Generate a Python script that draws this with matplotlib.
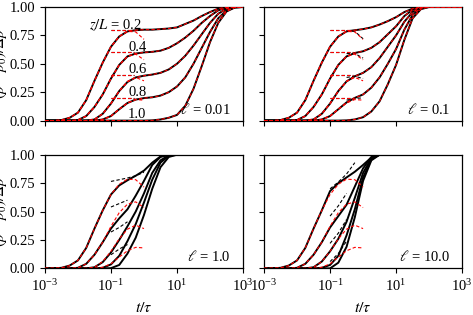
import numpy as np
import matplotlib
matplotlib.use('Agg')
import matplotlib.pyplot as plt
from matplotlib.ticker import NullLocator

plt.rcParams['font.family'] = ['Liberation Serif', 'DejaVu Serif']
plt.rcParams['mathtext.fontset'] = 'stix'
plt.rcParams['font.size'] = 9.5

# log10(t/tau) sampling of the curves
LOG_T = [-3.0, -2.75, -2.5, -2.25, -2.0, -1.75, -1.5, -1.25, -1.0, -0.75, -0.5, -0.25,
         0.0, 0.25, 0.5, 0.75, 1.0, 1.25, 1.5, 1.75, 2.0, 2.25, 2.5, 2.75, 3.0]
LOG_T_EARLY = LOG_T[:13]
Z_LABELS = ['0.2', '0.4', '0.6', '0.8', '1.0']
PLATEAU = [0.8, 0.6, 0.4, 0.2, 0.0]
ELL = ['0.01', '0.1', '1.0', '10.0']

# early-time approximation (red dashed), z/L = 0.2 ... 0.8
EARLY_02 = [0, 0, 0.005, 0.025, 0.07, 0.18, 0.35, 0.51, 0.65, 0.74, 0.785, 0.78, 0.715]
EARLY_04 = [0, 0, 0, 0, 0.005, 0.04, 0.12, 0.23, 0.37, 0.49, 0.565, 0.585, 0.535]
EARLY_06 = [0, 0, 0, 0, 0, 0, 0.01, 0.06, 0.15, 0.26, 0.345, 0.38, 0.35]
EARLY_08 = [0, 0, 0, 0, 0, 0, 0, 0.01, 0.04, 0.10, 0.155, 0.185, 0.18]

# ell = 0.01
A_02 = [0, 0, 0.005, 0.025, 0.07, 0.18, 0.35, 0.51, 0.65, 0.74, 0.785, 0.795, 0.80,
        0.80, 0.805, 0.81, 0.82, 0.85, 0.88, 0.92, 0.955, 0.985, 0.998, 1, 1]
A_04 = [0, 0, 0, 0, 0.005, 0.04, 0.12, 0.23, 0.37, 0.49, 0.565, 0.59, 0.60,
        0.605, 0.615, 0.64, 0.68, 0.73, 0.79, 0.86, 0.92, 0.97, 0.993, 1, 1]
A_06 = [0, 0, 0, 0, 0, 0, 0.01, 0.06, 0.15, 0.26, 0.34, 0.38, 0.395,
        0.405, 0.42, 0.45, 0.50, 0.57, 0.66, 0.76, 0.86, 0.94, 0.985, 1, 1]
A_08 = [0, 0, 0, 0, 0, 0, 0, 0.01, 0.04, 0.10, 0.155, 0.185, 0.198,
        0.205, 0.22, 0.25, 0.30, 0.38, 0.50, 0.64, 0.78, 0.90, 0.97, 0.995, 1]
A_10 = [0, 0, 0, 0, 0, 0, 0, 0, 0, 0, 0, 0, 0,
        0.002, 0.01, 0.025, 0.05, 0.13, 0.28, 0.48, 0.69, 0.86, 0.96, 0.995, 1]

# ell = 0.1
B_02 = [0, 0, 0.005, 0.025, 0.07, 0.18, 0.35, 0.51, 0.65, 0.74, 0.785, 0.795, 0.805,
        0.82, 0.845, 0.875, 0.91, 0.955, 0.985, 0.999, 1, 1, 1, 1, 1]
B_04 = [0, 0, 0, 0, 0.005, 0.04, 0.12, 0.23, 0.37, 0.49, 0.565, 0.595, 0.61,
        0.64, 0.69, 0.76, 0.83, 0.92, 0.975, 0.998, 1, 1, 1, 1, 1]
B_06 = [0, 0, 0, 0, 0, 0, 0.01, 0.06, 0.15, 0.26, 0.345, 0.39, 0.42,
        0.47, 0.55, 0.65, 0.75, 0.87, 0.955, 0.995, 1, 1, 1, 1, 1]
B_08 = [0, 0, 0, 0, 0, 0, 0, 0.01, 0.04, 0.10, 0.16, 0.20, 0.23,
        0.29, 0.38, 0.50, 0.63, 0.80, 0.93, 0.99, 1, 1, 1, 1, 1]
B_10 = [0, 0, 0, 0, 0, 0, 0, 0, 0, 0, 0.002, 0.01, 0.03,
        0.08, 0.17, 0.32, 0.49, 0.71, 0.90, 0.98, 1, 1, 1, 1, 1]
B_TAIL_T = [-0.5, -0.25, 0.0]
B_TAIL = [[0.79, 0.785, 0.72], [0.59, 0.59, 0.55], [0.38, 0.39, 0.37], [0.18, 0.195, 0.20]]

# ell = 1.0
C_02 = [0, 0, 0.005, 0.025, 0.07, 0.18, 0.35, 0.51, 0.65, 0.73, 0.775, 0.815, 0.86,
        0.93, 0.985, 1, 1, 1, 1, 1, 1, 1, 1, 1, 1]
C_04 = [0, 0, 0, 0, 0.005, 0.04, 0.12, 0.23, 0.35, 0.44, 0.52, 0.64, 0.77,
        0.91, 0.98, 1, 1, 1, 1, 1, 1, 1, 1, 1, 1]
C_06 = [0, 0, 0, 0, 0, 0, 0.01, 0.055, 0.14, 0.25, 0.37, 0.50, 0.66,
        0.84, 0.95, 0.995, 1, 1, 1, 1, 1, 1, 1, 1, 1]
C_08 = [0, 0, 0, 0, 0, 0, 0, 0.005, 0.035, 0.11, 0.24, 0.39, 0.58,
        0.78, 0.93, 0.99, 1, 1, 1, 1, 1, 1, 1, 1, 1]
C_10 = [0, 0, 0, 0, 0, 0, 0, 0, 0.002, 0.03, 0.13, 0.27, 0.47,
        0.70, 0.89, 0.98, 1, 1, 1, 1, 1, 1, 1, 1, 1]
C_DASH_T = [-1.0, -0.75, -0.5, -0.25, 0.0]
C_DASH = [[0.765, 0.78, 0.795, 0.815, 0.845], [0.54, 0.57, 0.60, np.nan, np.nan],
          [0.32, 0.36, 0.41, np.nan, np.nan], [0.12, 0.17, 0.21, np.nan, np.nan]]

# ell = 10.0
D_02 = [0, 0, 0.005, 0.025, 0.07, 0.18, 0.35, 0.51, 0.68, 0.75, 0.80, 0.85, 0.91,
        0.975, 1, 1, 1, 1, 1, 1, 1, 1, 1, 1, 1]
D_04 = [0, 0, 0, 0, 0.005, 0.04, 0.12, 0.23, 0.36, 0.46, 0.56, 0.72, 0.88,
        0.98, 1, 1, 1, 1, 1, 1, 1, 1, 1, 1, 1]
D_06 = [0, 0, 0, 0, 0, 0, 0.01, 0.06, 0.15, 0.26, 0.41, 0.62, 0.84,
        0.97, 1, 1, 1, 1, 1, 1, 1, 1, 1, 1, 1]
D_08 = [0, 0, 0, 0, 0, 0, 0, 0.005, 0.03, 0.11, 0.29, 0.52, 0.80,
        0.96, 1, 1, 1, 1, 1, 1, 1, 1, 1, 1, 1]
D_10 = [0, 0, 0, 0, 0, 0, 0, 0, 0, 0.05, 0.19, 0.45, 0.77,
        0.95, 1, 1, 1, 1, 1, 1, 1, 1, 1, 1, 1]
D_DASH_T = [-1.0, -0.75, -0.5, -0.25]
D_DASH = [[0.70, 0.76, 0.83, 0.93], [0.46, 0.55, 0.66, np.nan],
          [0.22, 0.31, 0.43, np.nan], [0.06, 0.13, 0.24, np.nan]]

FLAT_T = [-1.0, -0.3]

EARLY = [EARLY_02, EARLY_04, EARLY_06, EARLY_08]
SOLID = [[A_02, A_04, A_06, A_08, A_10], [B_02, B_04, B_06, B_08, B_10],
         [C_02, C_04, C_06, C_08, C_10], [D_02, D_04, D_06, D_08, D_10]]

t = 10 ** np.array(LOG_T)
t_early = 10 ** np.array(LOG_T_EARLY)
red_ls = dict(color='red', ls=(0, (3, 2)), lw=0.8, zorder=4)
blk_ls = dict(color='black', ls=(0, (3, 2)), lw=0.8, zorder=3)

fig, axes = plt.subplots(2, 2, figsize=(4.73, 3.15), dpi=100, sharex=True, sharey=True)
fig.subplots_adjust(left=0.095, right=0.977, top=0.978, bottom=0.148, wspace=0.106, hspace=0.3)

for k, ax in enumerate(axes.flat):
    for i in range(5):
        ax.plot(t, SOLID[k][i], color='black', lw=1.4, zorder=2)
    if k < 2:
        # exact and late-time curves coincide; early-time tails overshoot
        for i in range(5):
            ax.plot(t, SOLID[k][i], **red_ls)
            ax.plot(10 ** np.array(FLAT_T), [PLATEAU[i]] * 2, **blk_ls)
            ax.plot(10 ** np.array(FLAT_T), [PLATEAU[i]] * 2, **red_ls)
        for i in range(4):
            ax.plot(t_early, EARLY[i], **red_ls)
        if k == 1:
            for i in range(4):
                ax.plot(10 ** np.array(B_TAIL_T), B_TAIL[i], **blk_ls)
    else:
        for i in range(4):
            ax.plot(t_early, EARLY[i], **red_ls)
        dt, dv = (C_DASH_T, C_DASH) if k == 2 else (D_DASH_T, D_DASH)
        for i in range(4):
            ax.plot(10 ** np.array(dt), dv[i], **blk_ls)

    ax.text(0.94, 0.035, r'$\ell$ = %s' % ELL[k], transform=ax.transAxes,
            ha='right', va='bottom', fontsize=10.5)
    ax.set_xscale('log')
    ax.set_xlim(1e-3, 1e3)
    ax.set_ylim(0, 1)
    ax.set_xticks([1e-3, 1e-1, 1e1, 1e3])
    ax.xaxis.set_minor_locator(NullLocator())
    ax.set_yticks([0, 0.25, 0.5, 0.75, 1.0])
    ax.tick_params(direction='out', length=3.5, width=0.8, labelsize=10.5)
    for sp in ax.spines.values():
        sp.set_linewidth(0.9)

ax = axes[0, 0]
ax.text(10 ** -1.68, 0.84, r'$z/L$ = %s' % Z_LABELS[0], ha='left', va='center', fontsize=10.5)
for i, y in zip(range(1, 5), [0.645, 0.45, 0.245, 0.05]):
    ax.text(10 ** -0.48, y, Z_LABELS[i], ha='left', va='center', fontsize=10.5)

for ax in axes[:, 0]:
    ax.set_ylabel(r'$(p - p_0)/\Delta p$', fontsize=11)
    ax.yaxis.set_label_coords(-0.182, 0.5)
for ax in axes[1, :]:
    ax.set_xlabel(r'$t/\tau$', fontsize=11.5, labelpad=4)

fig.savefig('out.png', dpi=100)
